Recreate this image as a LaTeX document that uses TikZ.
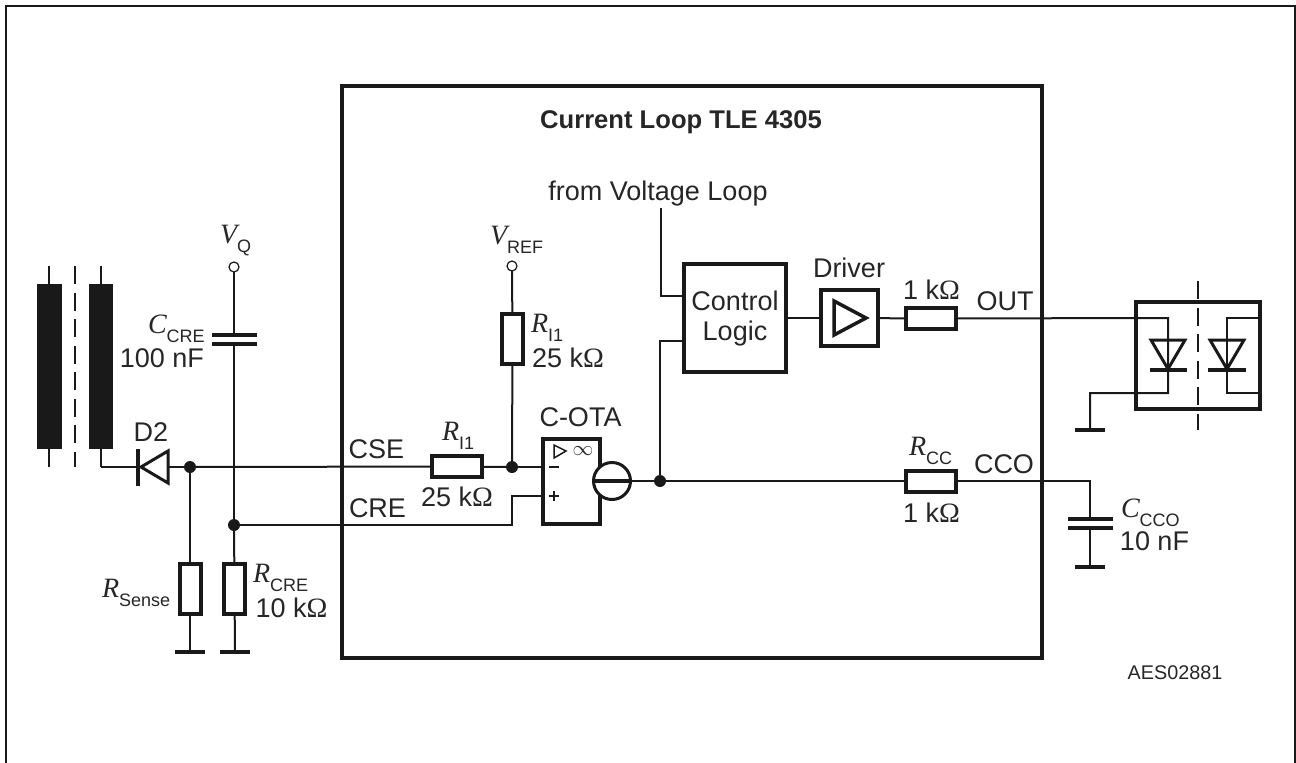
\documentclass[tikz,border=0pt]{standalone}
\usepackage{fontspec}
\setmainfont{Liberation Sans}
\newfontfamily\serifsym{Liberation Serif}
\usetikzlibrary{shapes.geometric}
\newcommand{\symbolohm}{\char"03A9\relax}
\newcommand{\qty}[1]{#1{\serifsym\fontsize{28}{28}\selectfont\symbolohm}}
\newcommand{\sym}[2]{{\serifsym\itshape\fontsize{28}{28}\selectfont #1}\raisebox{-9pt}{\fontsize{18}{18}\selectfont #2}}

\begin{document}
\begin{tikzpicture}[x=1pt,y=-1pt]
  \tikzset{WireStyle/.style = {
    draw       = black!90,
    line width = 2pt
    }
  }
  \tikzset{BoxStyle/.style = {
    shape         = rectangle,
    draw          = black!90,
    fill          = white,
    line width    = 4pt,
    inner sep     = 0pt,
    outer sep     = 0pt
    }
  }
  \tikzset{ResHStyle/.style = {
    BoxStyle,
    minimum width  = 50pt,
    minimum height = 21pt
    }
  }
  \tikzset{ResVStyle/.style = {
    BoxStyle,
    minimum width  = 21pt,
    minimum height = 50pt
    }
  }
  \tikzset{BarStyle/.style = {
    shape          = rectangle,
    fill           = black!90,
    inner sep      = 0pt,
    outer sep      = 0pt
    }
  }
  \tikzset{DotStyle/.style = {
    shape          = circle,
    fill           = black!90,
    inner sep      = 0pt,
    outer sep      = 0pt,
    minimum size   = 12pt
    }
  }
  \tikzset{PinStyle/.style = {
    shape          = circle,
    draw           = black!90,
    fill           = white,
    line width     = 1.2pt,
    inner sep      = 0pt,
    outer sep      = 0pt,
    minimum size   = 10pt
    }
  }
  \tikzset{PlateStyle/.style = {
    draw       = black!90,
    line width = 3.5pt
    }
  }
  \tikzset{LabelStyle/.style = {
    text         = black!85,
    inner sep    = 0pt,
    outer sep    = 0pt,
    anchor       = base,
    font         = \fontsize{27}{30}\selectfont,
    align        = center
    }
  }
  \tikzset{SymStyle/.style = {
    LabelStyle,
    anchor = base west
    }
  }

  \useasboundingbox (0,0) rectangle (1296,763);

  % frame
  \coordinate (FA) at (6,763);
  \coordinate (FB) at (6,6);
  \coordinate (FC) at (1295,6);
  \coordinate (FD) at (1295,763);
  \draw[WireStyle, line width=2.5pt] (FA) -- (FB) -- (FC) -- (FD);

  % main box
  \node[BoxStyle, minimum width=700pt, minimum height=572pt](Main) at (692,371.5) {};

  % transformer
  \node[BarStyle, minimum width=25pt, minimum height=165pt](CoreL) at (49.5,366.5) {};
  \node[BarStyle, minimum width=24pt, minimum height=165pt](CoreR) at (101,366.5) {};
  \coordinate (TLa) at (49,266);
  \coordinate (TLb) at (49,467);
  \coordinate (TRa) at (101,266);
  \coordinate (TRb) at (101,467);
  \coordinate (TDa) at (75,266);
  \coordinate (TDb) at (75,467);
  \draw[WireStyle](TLa) -- (TLb);
  \draw[WireStyle](TRa) -- (TRb);
  \draw[WireStyle, dash pattern=on 18pt off 8.5pt](TDa) -- (TDb);

  % junctions and pins
  \node[DotStyle](J1) at (190,467) {};
  \node[DotStyle](J2) at (234,525) {};
  \node[DotStyle](J3) at (512,467) {};
  \node[DotStyle](J4) at (660,481) {};
  \node[PinStyle](VQ) at (234,267) {};
  \node[PinStyle](VR) at (512,266) {};

  % resistors
  \node[ResVStyle](RSense) at (190,589) {};
  \node[ResVStyle](RCre) at (234.5,589) {};
  \node[ResVStyle](RVref) at (512.5,339) {};
  \node[ResHStyle](RCse) at (457,466.5) {};
  \node[ResHStyle](RCc) at (931,481) {};
  \node[ResHStyle](ROut) at (931,318.5) {};

  % blocks
  \node[BoxStyle, minimum width=57pt, minimum height=85pt](OTA) at (571.5,481.5) {};
  \node[BoxStyle, minimum width=102pt, minimum height=108pt](Logic) at (735,318) {};
  \node[BoxStyle, minimum width=57pt, minimum height=56pt](Drv) at (849.5,318) {};
  \node[BoxStyle, fill=none, minimum width=124pt, minimum height=107pt](Opto) at (1198,355.5) {};

  % capacitors
  \coordinate (CCa) at (234,335);
  \coordinate (CCb) at (234,344);
  \coordinate (CDa) at (1090,519);
  \coordinate (CDb) at (1090,528);
  \draw[PlateStyle](212,335) -- (257,335);
  \draw[PlateStyle](212,344) -- (257,344);
  \draw[PlateStyle](1068,519) -- (1113,519);
  \draw[PlateStyle](1068,528) -- (1113,528);

  % grounds
  \coordinate (G1) at (190,652);
  \coordinate (G2) at (235,652);
  \coordinate (G3) at (1090,430);
  \coordinate (G4) at (1090,567);
  \draw[PlateStyle](175,652) -- (205,652);
  \draw[PlateStyle](220,652) -- (250,652);
  \draw[PlateStyle](1075,430) -- (1105,430);
  \draw[PlateStyle](1075,567) -- (1105,567);

  % wires
  \coordinate (CreB) at (512,525);
  \coordinate (CreC) at (512,496);
  \coordinate (OtaP) at (541,496);
  \coordinate (OtaM) at (541,467);
  \coordinate (OtaO) at (593,481);
  \coordinate (Ccoa) at (1090,481);
  \coordinate (LogA) at (684,296);
  \coordinate (LogB) at (684,341);
  \coordinate (VlA) at (661,208);
  \coordinate (VlB) at (661,296);
  \coordinate (FbB) at (660,341);
  \draw[WireStyle](TRb) -- (J1);
  \draw[WireStyle](J1) -- (RCse);
  \draw[WireStyle](RCse) -- (J3);
  \draw[WireStyle](J3) -- (OtaM);
  \draw[WireStyle](VR) -- (RVref);
  \draw[WireStyle](RVref) -- (J3);
  \draw[WireStyle](J1) -- (RSense);
  \draw[WireStyle](RSense) -- (G1);
  \draw[WireStyle](VQ) -- (CCa);
  \draw[WireStyle](CCb) -- (J2);
  \draw[WireStyle](J2) -- (RCre);
  \draw[WireStyle](RCre) -- (G2);
  \draw[WireStyle](J2) -- (CreB) -- (CreC) -- (OtaP);
  \draw[WireStyle](J4) -- (RCc);
  \draw[WireStyle](RCc) -- (Ccoa) -- (CDa);
  \draw[WireStyle](CDb) -- (G4);
  \draw[WireStyle, line width=1.5pt](VlA) -- (VlB) -- (LogA);
  \draw[WireStyle](J4) -- (FbB) -- (LogB);
  \draw[WireStyle](Logic) -- (Drv);
  \draw[WireStyle](Drv) -- (ROut);

  % diode D2
  \node[BarStyle, minimum width=3.5pt, minimum height=37pt](D2Bar) at (138,467) {};
  \coordinate (D2a) at (141,467);
  \coordinate (D2b) at (168,451);
  \coordinate (D2c) at (168,483);
  \draw[WireStyle, line width=3pt, fill=white, miter limit=3](D2a) -- (D2b) -- (D2c) -- cycle;

  % C-OTA symbol
  \node[PinStyle, line width=3pt, minimum size=37pt](Src) at (612,481) {};
  \coordinate (SrcR) at (631,481);
  \draw[WireStyle, line width=4pt](OtaO) -- (SrcR);
  \draw[WireStyle](SrcR) -- (J4);
  \coordinate (TrA) at (554,445);
  \coordinate (TrB) at (554,458);
  \coordinate (TrC) at (566,451);
  \draw[WireStyle, line width=1.5pt](TrA) -- (TrB) -- (TrC) -- cycle;
  \node[LabelStyle, anchor=center, font=\fontsize{22}{22}\selectfont](Inf) at (583,451) {$\infty$};
  \coordinate (MiA) at (549,467);
  \coordinate (MiB) at (559,467);
  \draw[WireStyle](MiA) -- (MiB);
  \coordinate (PlA) at (549,496);
  \coordinate (PlB) at (559,496);
  \coordinate (PlC) at (554,491);
  \coordinate (PlD) at (554,501);
  \draw[WireStyle](PlA) -- (PlB);
  \draw[WireStyle](PlC) -- (PlD);

  % driver triangle
  \coordinate (DrA) at (834,301);
  \coordinate (DrB) at (834,335);
  \coordinate (DrC) at (866,318);
  \draw[WireStyle, line width=3.5pt](DrA) -- (DrB) -- (DrC) -- cycle;

  % optocoupler
  \coordinate (OutA) at (1168,318);
  \coordinate (OutB) at (1168,393);
  \coordinate (OutC) at (1090,393);
  \coordinate (OpR1) at (1260,318);
  \coordinate (OpR2) at (1227,318);
  \coordinate (OpR3) at (1227,393);
  \coordinate (OpR4) at (1260,393);
  \coordinate (ODa) at (1198,281);
  \coordinate (ODb) at (1198,430);
  \draw[WireStyle](ROut) -- (OutA) -- (OutB) -- (OutC) -- (G3);
  \draw[WireStyle](OpR1) -- (OpR2) -- (OpR3) -- (OpR4);
  \draw[WireStyle, dash pattern=on 18pt off 8.5pt](ODa) -- (ODb);
  \draw[PlateStyle, line width=3pt](1151,340) -- (1185,340) -- (1168,369) -- cycle;
  \draw[PlateStyle, line width=3pt](1210,340) -- (1244,340) -- (1227,369) -- cycle;
  \draw[PlateStyle](1150,370) -- (1187,370);
  \draw[PlateStyle](1208,370) -- (1246,370);

  % labels
  \node[LabelStyle, font=\bfseries\fontsize{25.6}{30}\selectfont](Title) at (681,128) {Current Loop TLE 4305};
  \node[LabelStyle](FromV) at (658,200) {from Voltage Loop};
  \node[LabelStyle](DrvL) at (849,277) {Driver};
  \node[LabelStyle](OhmA) at (931.5,299) {\qty{1 k}};
  \node[LabelStyle](OutL) at (1005,310) {OUT};
  \node[LabelStyle](CcoL) at (1004,473) {CCO};
  \node[LabelStyle](CseL) at (376.5,458) {CSE};
  \node[LabelStyle](CreL) at (377.5,517.5) {CRE};
  \node[LabelStyle](OtaL) at (580.5,426) {C-OTA};
  \node[LabelStyle, anchor=center, text width=100pt](LogL) at (735,319) {Control\\Logic};
  \node[LabelStyle](D2L) at (151,441) {D2};
  \node[LabelStyle](OhmB) at (457,506) {\qty{25 k}};
  \node[LabelStyle](OhmC) at (568,367) {\qty{25 k}};
  \node[LabelStyle](OhmD) at (931.5,522) {\qty{1 k}};
  \node[LabelStyle](OhmE) at (291.5,617) {\qty{10 k}};
  \node[LabelStyle](NfA) at (162,367) {100 nF};
  \node[LabelStyle](NfB) at (1154.5,550) {10 nF};
  \node[SymStyle](SymVq) at (220,243) {\sym{V}{Q}};
  \node[SymStyle](SymVr) at (490,244) {\sym{V}{REF}};
  \node[SymStyle](SymCc) at (148,333) {\sym{C}{CRE}};
  \node[SymStyle](SymRs) at (102,597) {\sym{R}{Sense}};
  \node[SymStyle](SymRc) at (253,582) {\sym{R}{CRE}};
  \node[SymStyle](SymRi) at (531,332) {\sym{R}{I1}};
  \node[SymStyle](SymRj) at (442,440) {\sym{R}{I1}};
  \node[SymStyle](SymRo) at (909,455) {\sym{R}{CC}};
  \node[SymStyle](SymCo) at (1121,517) {\sym{C}{CCO}};
  \node[LabelStyle, font=\fontsize{19.8}{20}\selectfont](Code) at (1175,679) {AES02881};
\end{tikzpicture}
\end{document}
